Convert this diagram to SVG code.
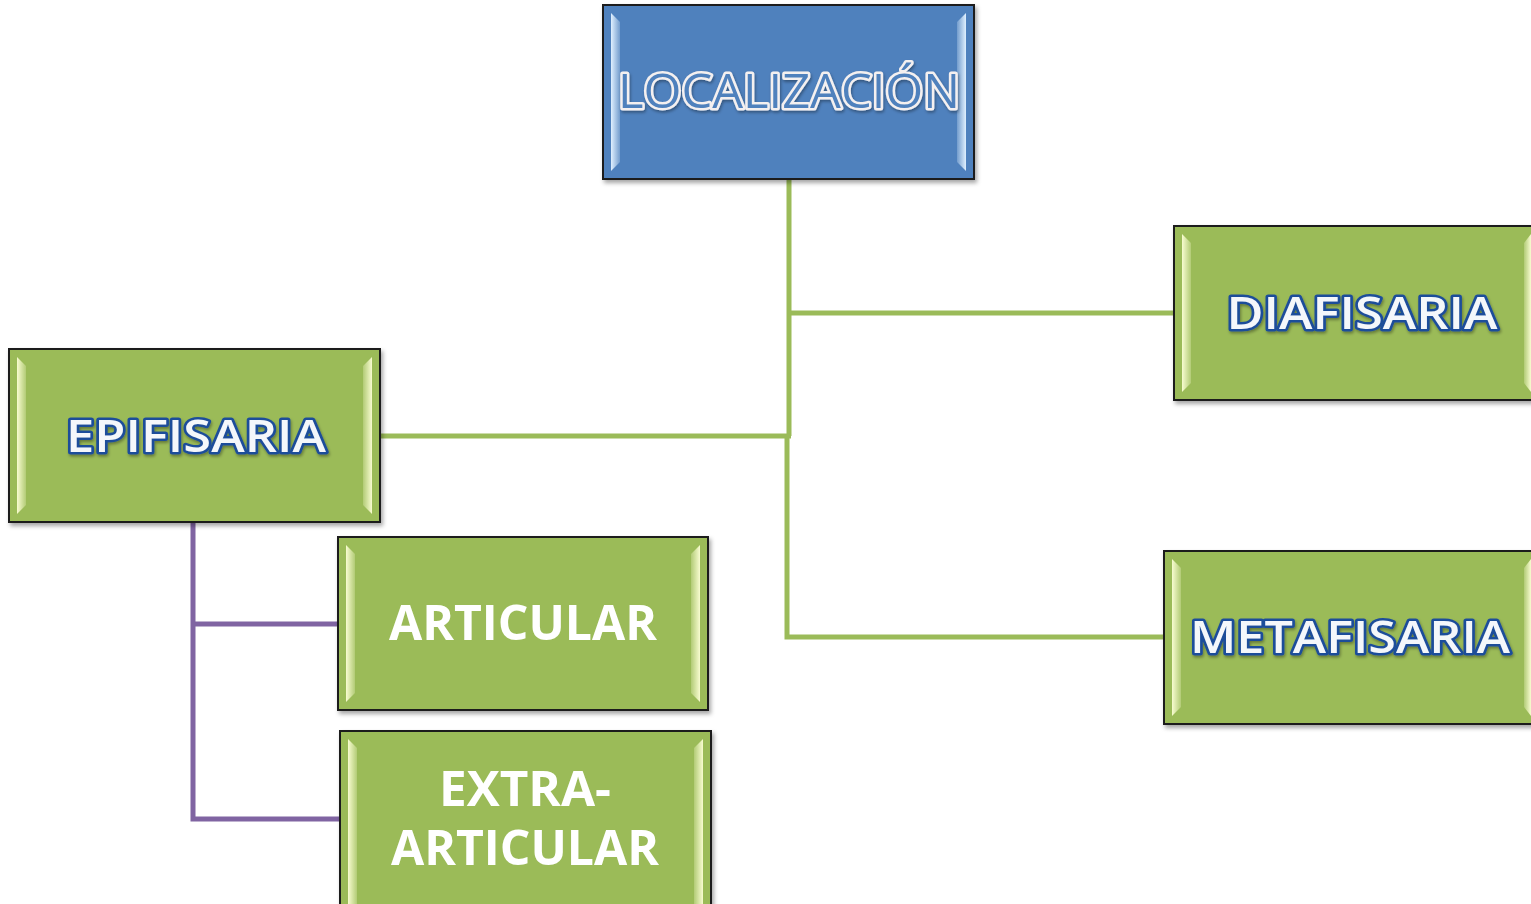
<svg xmlns="http://www.w3.org/2000/svg" width="1531" height="904" viewBox="0 0 1531 904">
<defs>
<filter id="sh" x="-5%" y="-5%" width="115%" height="120%">
<feDropShadow dx="2" dy="3" stdDeviation="2" flood-color="#000" flood-opacity="0.35"/>
</filter>
<filter id="tsh" x="-5%" y="-20%" width="110%" height="150%">
<feDropShadow dx="1" dy="2" stdDeviation="1.5" flood-color="#000" flood-opacity="0.35"/>
</filter>
<linearGradient id="gEdgeL" x1="0" y1="0" x2="1" y2="0">
<stop offset="0" stop-color="#f8fcd0" stop-opacity="1"/>
<stop offset="1" stop-color="#f8fcd0" stop-opacity="0.25"/>
</linearGradient>
<linearGradient id="gEdgeR" x1="1" y1="0" x2="0" y2="0">
<stop offset="0" stop-color="#f8fcd0" stop-opacity="1"/>
<stop offset="1" stop-color="#f8fcd0" stop-opacity="0.25"/>
</linearGradient>
<linearGradient id="bEdgeL" x1="0" y1="0" x2="1" y2="0">
<stop offset="0" stop-color="#e0f0ff" stop-opacity="1"/>
<stop offset="1" stop-color="#e0f0ff" stop-opacity="0.25"/>
</linearGradient>
<linearGradient id="bEdgeR" x1="1" y1="0" x2="0" y2="0">
<stop offset="0" stop-color="#e0f0ff" stop-opacity="1"/>
<stop offset="1" stop-color="#e0f0ff" stop-opacity="0.25"/>
</linearGradient>
</defs>
<style>
.green{fill:#9bbb59;stroke:#1a1a1a;stroke-width:2}
.blue{fill:#4f81bd;stroke:#1a1a1a;stroke-width:2}
.gc{stroke:#9bbb59;stroke-width:5;fill:none}
.pc{stroke:#8064a2;stroke-width:5;fill:none}
.bt{font-family:"Open Sans","Liberation Sans",sans-serif;font-size:46px;font-weight:600;fill:#f4f7fb;stroke:#1f4e9a;stroke-width:5;paint-order:stroke;stroke-linejoin:round;text-anchor:middle;dominant-baseline:central}
.wt{font-family:"Open Sans","Liberation Sans",sans-serif;font-size:48px;font-weight:bold;fill:#ffffff;text-anchor:middle;dominant-baseline:central}
.lt{font-family:"Open Sans","Liberation Sans",sans-serif;font-size:48px;fill:#4f81bd;stroke:#f4f0f0;stroke-width:5;paint-order:stroke;stroke-linejoin:round;text-anchor:middle;dominant-baseline:central}
</style>
<g id="connectors">
<polyline class="gc" points="789,179 789,436"/>
<polyline class="gc" points="789,313 1174,313"/>
<polyline class="gc" points="380,436 791,436"/>
<polyline class="gc" points="787,436 787,637 1164,637"/>
<polyline class="pc" points="193,522 193,819 340,819"/>
<polyline class="pc" points="193,624 338,624"/>
</g>
<g id="localizacion">
<rect class="blue" x="603" y="5" width="371" height="174" filter="url(#sh)"/>
<polygon points="611,13 620,22 620,162 611,171" fill="url(#bEdgeL)"/>
<polygon points="966,13 957,22 957,162 966,171" fill="url(#bEdgeR)"/>
<text class="lt" x="789" y="89" textLength="342" lengthAdjust="spacingAndGlyphs" filter="url(#tsh)">LOCALIZACIÓN</text>
</g>
<g id="diafisaria">
<rect class="green" x="1174" y="226" width="362" height="174" filter="url(#sh)"/>
<polygon points="1182,234 1191,243 1191,383 1182,392" fill="url(#gEdgeL)"/>
<polygon points="1531,234 1524,243 1524,383 1531,392" fill="url(#gEdgeR)"/>
<text class="bt" x="1362" y="311" textLength="271" lengthAdjust="spacingAndGlyphs" filter="url(#tsh)">DIAFISARIA</text>
</g>
<g id="epifisaria">
<rect class="green" x="9" y="349" width="371" height="173" filter="url(#sh)"/>
<polygon points="17,357 26,366 26,505 17,514" fill="url(#gEdgeL)"/>
<polygon points="372,357 363,366 363,505 372,514" fill="url(#gEdgeR)"/>
<text class="bt" x="196" y="434" textLength="260" lengthAdjust="spacingAndGlyphs" filter="url(#tsh)">EPIFISARIA</text>
</g>
<g id="metafisaria">
<rect class="green" x="1164" y="551" width="372" height="173" filter="url(#sh)"/>
<polygon points="1172,559 1181,568 1181,707 1172,716" fill="url(#gEdgeL)"/>
<polygon points="1531,559 1524,568 1524,707 1531,716" fill="url(#gEdgeR)"/>
<text class="bt" x="1350" y="635" textLength="320" lengthAdjust="spacingAndGlyphs" filter="url(#tsh)">METAFISARIA</text>
</g>
<g id="articular">
<rect class="green" x="338" y="537" width="370" height="173" filter="url(#sh)"/>
<polygon points="346,545 355,554 355,693 346,702" fill="url(#gEdgeL)"/>
<polygon points="700,545 691,554 691,693 700,702" fill="url(#gEdgeR)"/>
<text class="wt" x="523" y="621" textLength="268" lengthAdjust="spacingAndGlyphs">ARTICULAR</text>
</g>
<g id="extra-articular">
<rect class="green" x="340" y="731" width="371" height="180" filter="url(#sh)"/>
<polygon points="348,739 357,748 357,904 348,904" fill="url(#gEdgeL)"/>
<polygon points="703,739 694,748 694,904 703,904" fill="url(#gEdgeR)"/>
<text class="wt" x="525" y="787" textLength="172" lengthAdjust="spacingAndGlyphs">EXTRA-</text>
<text class="wt" x="525" y="846" textLength="268" lengthAdjust="spacingAndGlyphs">ARTICULAR</text>
</g>
</svg>
